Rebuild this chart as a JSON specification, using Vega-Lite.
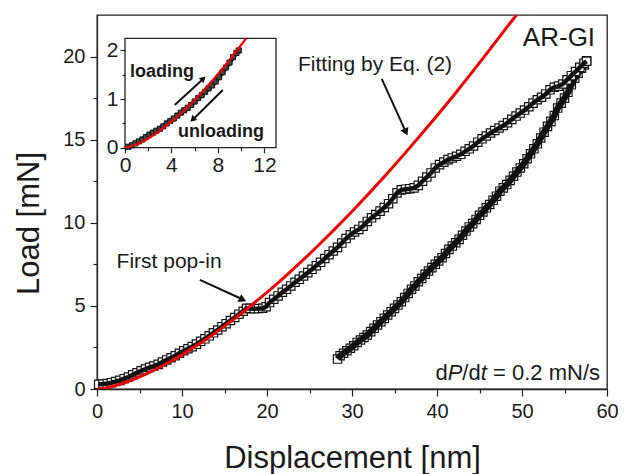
{
  "$schema": "https://vega.github.io/schema/vega-lite/v6.json",
  "width": 510,
  "height": 374,
  "autosize": {"type": "none"},
  "padding": {"left": 97, "top": 15, "right": 23, "bottom": 85},
  "background": "white",
  "config": {
    "font": "Liberation Sans",
    "view": {"stroke": "#222", "strokeWidth": 1.3},
    "axis": {
      "labelFont": "Liberation Sans",
      "titleFont": "Liberation Sans",
      "labelColor": "#1a1a1a",
      "titleColor": "#1a1a1a",
      "domainColor": "#222",
      "tickColor": "#222",
      "domainWidth": 1.3,
      "tickWidth": 1.2,
      "grid": false,
      "labelOverlap": false,
      "labelFlush": false,
      "titleFontWeight": "normal"
    }
  },
  "datasets": {
    "fit": [
      {"x": 0, "y": 0}, {"x": 1, "y": 0.065}, {"x": 2, "y": 0.184}, {"x": 3, "y": 0.338},
      {"x": 4, "y": 0.52}, {"x": 5, "y": 0.727}, {"x": 6, "y": 0.955}, {"x": 8, "y": 1.471},
      {"x": 10, "y": 2.055}, {"x": 12, "y": 2.702}, {"x": 14, "y": 3.405}, {"x": 16, "y": 4.16},
      {"x": 18, "y": 4.964}, {"x": 20, "y": 5.814}, {"x": 22, "y": 6.707}, {"x": 24, "y": 7.643},
      {"x": 26, "y": 8.617}, {"x": 28, "y": 9.63}, {"x": 30, "y": 10.68}, {"x": 32, "y": 11.77},
      {"x": 34, "y": 12.89}, {"x": 36, "y": 14.04}, {"x": 38, "y": 15.23}, {"x": 40, "y": 16.44},
      {"x": 42, "y": 17.69}, {"x": 44, "y": 18.97}, {"x": 46, "y": 20.28}, {"x": 48, "y": 21.62},
      {"x": 49.35, "y": 22.5}
    ],
    "loading": [
      {"x": 0.2, "y": 0.28}, {"x": 0.7, "y": 0.3}, {"x": 1.2, "y": 0.33}, {"x": 1.7, "y": 0.38},
      {"x": 2.2, "y": 0.45}, {"x": 2.7, "y": 0.52}, {"x": 3.2, "y": 0.62}, {"x": 3.7, "y": 0.72},
      {"x": 4.2, "y": 0.85}, {"x": 4.7, "y": 0.98}, {"x": 5.2, "y": 1.1}, {"x": 5.7, "y": 1.2},
      {"x": 6.2, "y": 1.3}, {"x": 6.7, "y": 1.38}, {"x": 7.2, "y": 1.48}, {"x": 7.7, "y": 1.62},
      {"x": 8.2, "y": 1.75}, {"x": 8.7, "y": 1.88}, {"x": 9.2, "y": 2.0}, {"x": 9.7, "y": 2.15},
      {"x": 10.2, "y": 2.3}, {"x": 10.7, "y": 2.42}, {"x": 11.2, "y": 2.55}, {"x": 11.7, "y": 2.7},
      {"x": 12.2, "y": 2.87}, {"x": 12.7, "y": 3.02}, {"x": 13.2, "y": 3.2}, {"x": 13.7, "y": 3.38},
      {"x": 14.2, "y": 3.55}, {"x": 14.7, "y": 3.75}, {"x": 15.2, "y": 3.93}, {"x": 15.7, "y": 4.12},
      {"x": 16.2, "y": 4.3}, {"x": 16.7, "y": 4.5}, {"x": 17.2, "y": 4.68}, {"x": 17.6, "y": 4.85},
      {"x": 18.0, "y": 4.85}, {"x": 18.5, "y": 4.83}, {"x": 19.0, "y": 4.84}, {"x": 19.5, "y": 4.86},
      {"x": 19.9, "y": 4.95}, {"x": 20.3, "y": 5.2}, {"x": 20.8, "y": 5.4}, {"x": 21.3, "y": 5.6},
      {"x": 21.8, "y": 5.82}, {"x": 22.3, "y": 6.0}, {"x": 22.8, "y": 6.2}, {"x": 23.3, "y": 6.42},
      {"x": 23.8, "y": 6.6}, {"x": 24.3, "y": 6.8}, {"x": 24.8, "y": 7.0}, {"x": 25.3, "y": 7.2},
      {"x": 25.8, "y": 7.42}, {"x": 26.3, "y": 7.62}, {"x": 26.8, "y": 7.85}, {"x": 27.3, "y": 8.08},
      {"x": 27.8, "y": 8.3}, {"x": 28.3, "y": 8.52}, {"x": 28.8, "y": 8.78}, {"x": 29.3, "y": 9.05},
      {"x": 29.8, "y": 9.28}, {"x": 30.3, "y": 9.45}, {"x": 30.8, "y": 9.6}, {"x": 31.3, "y": 9.8},
      {"x": 31.8, "y": 10.08}, {"x": 32.3, "y": 10.3}, {"x": 32.8, "y": 10.5}, {"x": 33.3, "y": 10.7},
      {"x": 33.8, "y": 10.92}, {"x": 34.3, "y": 11.15}, {"x": 34.8, "y": 11.45}, {"x": 35.3, "y": 11.8},
      {"x": 35.8, "y": 11.98}, {"x": 36.3, "y": 12.02}, {"x": 36.8, "y": 12.05}, {"x": 37.3, "y": 12.1},
      {"x": 37.8, "y": 12.25}, {"x": 38.3, "y": 12.5}, {"x": 38.8, "y": 12.75}, {"x": 39.3, "y": 13.0},
      {"x": 39.8, "y": 13.3}, {"x": 40.3, "y": 13.5}, {"x": 40.8, "y": 13.65}, {"x": 41.3, "y": 13.8},
      {"x": 41.8, "y": 13.9}, {"x": 42.3, "y": 14.0}, {"x": 42.8, "y": 14.12}, {"x": 43.3, "y": 14.3},
      {"x": 43.8, "y": 14.45}, {"x": 44.3, "y": 14.62}, {"x": 44.8, "y": 14.85}, {"x": 45.3, "y": 15.05},
      {"x": 45.8, "y": 15.22}, {"x": 46.3, "y": 15.4}, {"x": 46.8, "y": 15.55}, {"x": 47.3, "y": 15.7},
      {"x": 47.8, "y": 15.85}, {"x": 48.3, "y": 16.02}, {"x": 48.8, "y": 16.22}, {"x": 49.3, "y": 16.42},
      {"x": 49.8, "y": 16.6}, {"x": 50.3, "y": 16.78}, {"x": 50.8, "y": 16.98}, {"x": 51.3, "y": 17.2},
      {"x": 51.8, "y": 17.4}, {"x": 52.3, "y": 17.55}, {"x": 52.8, "y": 17.75}, {"x": 53.3, "y": 18.0},
      {"x": 53.8, "y": 18.15}, {"x": 54.3, "y": 18.22}, {"x": 54.8, "y": 18.35}, {"x": 55.3, "y": 18.6},
      {"x": 55.8, "y": 18.85}, {"x": 56.3, "y": 19.1}, {"x": 56.8, "y": 19.35}, {"x": 57.3, "y": 19.6},
      {"x": 57.6, "y": 19.72}
    ],
    "unloading": [
      {"x": 57.6, "y": 19.75}, {"x": 57.3, "y": 19.5}, {"x": 57.0, "y": 19.3}, {"x": 56.6, "y": 19.0},
      {"x": 56.2, "y": 18.7}, {"x": 55.8, "y": 18.3}, {"x": 55.4, "y": 17.85}, {"x": 55.0, "y": 17.5},
      {"x": 54.6, "y": 17.2}, {"x": 54.2, "y": 16.9}, {"x": 53.8, "y": 16.45}, {"x": 53.4, "y": 16.1},
      {"x": 53.0, "y": 15.8}, {"x": 52.6, "y": 15.45}, {"x": 52.2, "y": 15.1}, {"x": 51.8, "y": 14.75},
      {"x": 51.4, "y": 14.45}, {"x": 51.0, "y": 14.15}, {"x": 50.6, "y": 13.85}, {"x": 50.2, "y": 13.55},
      {"x": 49.8, "y": 13.3}, {"x": 49.4, "y": 13.05}, {"x": 49.0, "y": 12.8}, {"x": 48.6, "y": 12.55},
      {"x": 48.2, "y": 12.3}, {"x": 47.8, "y": 12.1}, {"x": 47.4, "y": 11.9}, {"x": 47.0, "y": 11.6},
      {"x": 46.6, "y": 11.35}, {"x": 46.2, "y": 11.1}, {"x": 45.8, "y": 10.9}, {"x": 45.4, "y": 10.65},
      {"x": 45.0, "y": 10.45}, {"x": 44.6, "y": 10.2}, {"x": 44.2, "y": 9.95}, {"x": 43.8, "y": 9.75},
      {"x": 43.4, "y": 9.5}, {"x": 43.0, "y": 9.25}, {"x": 42.6, "y": 9.0}, {"x": 42.2, "y": 8.8},
      {"x": 41.8, "y": 8.6}, {"x": 41.4, "y": 8.4}, {"x": 41.0, "y": 8.15}, {"x": 40.6, "y": 7.9},
      {"x": 40.2, "y": 7.7}, {"x": 39.8, "y": 7.5}, {"x": 39.4, "y": 7.3}, {"x": 39.0, "y": 7.1},
      {"x": 38.6, "y": 6.9}, {"x": 38.2, "y": 6.65}, {"x": 37.8, "y": 6.45}, {"x": 37.4, "y": 6.2},
      {"x": 37.0, "y": 6.0}, {"x": 36.6, "y": 5.75}, {"x": 36.2, "y": 5.5}, {"x": 35.8, "y": 5.25},
      {"x": 35.4, "y": 5.05}, {"x": 35.0, "y": 4.85}, {"x": 34.6, "y": 4.65}, {"x": 34.2, "y": 4.45},
      {"x": 33.8, "y": 4.25}, {"x": 33.4, "y": 4.05}, {"x": 33.0, "y": 3.85}, {"x": 32.6, "y": 3.65},
      {"x": 32.2, "y": 3.45}, {"x": 31.8, "y": 3.25}, {"x": 31.4, "y": 3.1}, {"x": 31.0, "y": 2.95},
      {"x": 30.6, "y": 2.8}, {"x": 30.2, "y": 2.6}, {"x": 29.8, "y": 2.45}, {"x": 29.4, "y": 2.3},
      {"x": 29.0, "y": 2.15}, {"x": 28.6, "y": 2.0}, {"x": 28.3, "y": 1.8}
    ],
    "insetFit": [
      {"x": 0, "y": 0}, {"x": 0.5, "y": 0.024}, {"x": 1, "y": 0.067}, {"x": 1.5, "y": 0.123},
      {"x": 2, "y": 0.189}, {"x": 3, "y": 0.347}, {"x": 4, "y": 0.534}, {"x": 5, "y": 0.747},
      {"x": 6, "y": 0.982}, {"x": 7, "y": 1.237}, {"x": 8, "y": 1.511}, {"x": 9, "y": 1.804},
      {"x": 10, "y": 2.112}, {"x": 10.43, "y": 2.25}
    ],
    "insetData": [
      {"x": 0.3, "y": 0.02}, {"x": 0.6, "y": 0.05}, {"x": 0.9, "y": 0.09}, {"x": 1.2, "y": 0.13},
      {"x": 1.5, "y": 0.17}, {"x": 1.8, "y": 0.22}, {"x": 2.1, "y": 0.27}, {"x": 2.4, "y": 0.31},
      {"x": 2.7, "y": 0.35}, {"x": 3.0, "y": 0.39}, {"x": 3.3, "y": 0.44}, {"x": 3.6, "y": 0.5},
      {"x": 3.9, "y": 0.55}, {"x": 4.2, "y": 0.6}, {"x": 4.5, "y": 0.66}, {"x": 4.8, "y": 0.72},
      {"x": 5.1, "y": 0.77}, {"x": 5.4, "y": 0.82}, {"x": 5.7, "y": 0.88}, {"x": 6.0, "y": 0.95},
      {"x": 6.3, "y": 1.02}, {"x": 6.6, "y": 1.08}, {"x": 6.9, "y": 1.15}, {"x": 7.2, "y": 1.22},
      {"x": 7.5, "y": 1.28}, {"x": 7.8, "y": 1.36}, {"x": 8.1, "y": 1.45}, {"x": 8.4, "y": 1.55},
      {"x": 8.7, "y": 1.65}, {"x": 9.0, "y": 1.75}, {"x": 9.3, "y": 1.86}, {"x": 9.6, "y": 1.95},
      {"x": 9.8, "y": 2.0}
    ]
  },
  "layer": [
    {
      "encoding": {
        "x": {
          "field": "x", "type": "quantitative",
          "scale": {"domain": [0, 60], "nice": false, "zero": false},
          "axis": {
            "title": "Displacement [nm]",
            "values": [0, 5, 10, 15, 20, 25, 30, 35, 40, 45, 50, 55, 60],
            "labelExpr": "datum.value % 10 === 0 ? format(datum.value, 'd') : ''",
            "tickSize": {"condition": {"test": "datum.value % 10 === 0", "value": 7}, "value": 4},
            "labelFontSize": 20,
            "labelPadding": 5,
            "titleFontSize": 31,
            "titleBaseline": "alphabetic",
            "titleY": 78
          }
        },
        "y": {
          "field": "y", "type": "quantitative",
          "scale": {"domain": [0, 22.5], "nice": false, "zero": false},
          "axis": {
            "title": "Load [mN]",
            "values": [0, 2.5, 5, 7.5, 10, 12.5, 15, 17.5, 20],
            "labelExpr": "datum.value % 5 === 0 ? format(datum.value, 'd') : ''",
            "tickSize": {"condition": {"test": "datum.value % 5 === 0", "value": 7}, "value": 4},
            "labelFontSize": 20,
            "labelPadding": 5,
            "titleFontSize": 31,
            "titleBaseline": "alphabetic",
            "titleAngle": -90,
            "titleAlign": "center",
            "titleX": -59,
            "titleY": 208
          }
        }
      },
      "layer": [
        {
          "data": {"name": "unloading"},
          "mark": {"type": "point", "shape": "square", "filled": true, "fill": "white", "stroke": "#111", "strokeWidth": 1.2, "size": 70, "opacity": 1}
        },
        {
          "data": {"name": "unloading"},
          "mark": {"type": "line", "color": "#111", "strokeWidth": 6.5}
        },
        {
          "data": {"name": "loading"},
          "mark": {"type": "point", "shape": "square", "filled": true, "fill": "white", "stroke": "#111", "strokeWidth": 1.2, "size": 70, "opacity": 1}
        },
        {
          "data": {"name": "loading"},
          "mark": {"type": "line", "color": "#111", "strokeWidth": 4.5}
        },
        {
          "data": {"name": "fit"},
          "mark": {"type": "line", "color": "#ee0000", "strokeWidth": 3, "clip": true}
        },
        {
          "data": {"values": [{"x": 2.3, "y": 7.26, "label": "First pop-in"}, {"x": 23.65, "y": 19.16, "label": "Fitting by Eq. (2)"}]},
          "mark": {"type": "text", "align": "left", "baseline": "alphabetic", "fontSize": 21, "color": "#1a1a1a"},
          "encoding": {"text": {"field": "label"}}
        },
        {
          "data": {"values": [{"x": 58.6, "y": 20.66, "label": "AR-GI"}]},
          "mark": {"type": "text", "align": "right", "baseline": "alphabetic", "fontSize": 26, "color": "#1a1a1a"},
          "encoding": {"text": {"field": "label"}}
        },
        {
          "data": {"values": [{"x": 59.18, "y": 0.56, "label": "= 0.2 mN/s"}, {"x": 45.14, "y": 0.56, "label": "/d"}, {"x": 41.26, "y": 0.56, "label": "d"}]},
          "mark": {"type": "text", "align": "right", "baseline": "alphabetic", "fontSize": 22, "color": "#1a1a1a"},
          "encoding": {"text": {"field": "label"}}
        },
        {
          "data": {"values": [{"x": 45.86, "y": 0.56, "label": "t"}, {"x": 42.98, "y": 0.56, "label": "P"}]},
          "mark": {"type": "text", "align": "right", "baseline": "alphabetic", "fontSize": 22, "fontStyle": "italic", "color": "#1a1a1a"},
          "encoding": {"text": {"field": "label"}}
        },
        {
          "data": {"values": [{"x": 12.1, "y": 6.56, "x2": 17.1, "y2": 5.4}, {"x": 33.5, "y": 18.66, "x2": 36.3, "y2": 15.5}]},
          "mark": {"type": "rule", "color": "#111", "strokeWidth": 2},
          "encoding": {"x2": {"field": "x2"}, "y2": {"field": "y2"}}
        },
        {
          "data": {"values": [{"x": 17.15, "y": 5.37}]},
          "mark": {"type": "point", "shape": "triangle-up", "filled": true, "color": "#111", "size": 75, "angle": 115, "opacity": 1}
        },
        {
          "data": {"values": [{"x": 36.35, "y": 15.45}]},
          "mark": {"type": "point", "shape": "triangle-up", "filled": true, "color": "#111", "size": 75, "angle": 155, "opacity": 1}
        }
      ]
    },
    {
      "encoding": {
        "x": {
          "field": "x", "type": "quantitative",
          "scale": {"domain": [0, 13], "range": [28, 179], "nice": false, "zero": false},
          "axis": {
            "orient": "bottom",
            "offset": -241.3,
            "title": null,
            "domain": false,
            "zindex": 1,
            "values": [0, 2, 4, 6, 8, 10, 12],
            "labelExpr": "datum.value % 4 === 0 ? format(datum.value, 'd') : ''",
            "tickSize": {"condition": {"test": "datum.value % 4 === 0", "value": 5}, "value": 3},
            "labelFontSize": 21,
            "labelPadding": 2
          }
        },
        "y": {
          "field": "y", "type": "quantitative",
          "scale": {"domain": [0, 2.25], "range": [132.7, 23.3], "nice": false, "zero": false},
          "axis": {
            "orient": "left",
            "offset": -28,
            "title": null,
            "domain": false,
            "zindex": 1,
            "values": [0, 0.5, 1, 1.5, 2],
            "labelExpr": "datum.value % 1 === 0 ? format(datum.value, 'd') : ''",
            "tickSize": {"condition": {"test": "datum.value % 1 === 0", "value": 5}, "value": 3},
            "labelFontSize": 21,
            "labelPadding": 2
          }
        }
      },
      "layer": [
        {
          "data": {"values": [{"x": 0, "y": 0, "x2": 13, "y2": 2.25}]},
          "mark": {"type": "rect", "fill": "white", "stroke": "#222", "strokeWidth": 1.3},
          "encoding": {"x2": {"field": "x2"}, "y2": {"field": "y2"}}
        },
        {
          "data": {"name": "insetData"},
          "mark": {"type": "line", "color": "#111", "strokeWidth": 4.5}
        },
        {
          "data": {"name": "insetData"},
          "mark": {"type": "point", "shape": "square", "filled": true, "fill": "#444", "stroke": "#111", "strokeWidth": 1, "size": 26, "opacity": 1}
        },
        {
          "data": {"name": "insetFit"},
          "mark": {"type": "line", "color": "#ee0000", "strokeWidth": 2.2}
        },
        {
          "data": {"values": [{"x": 0.43, "y": 1.458, "label": "loading"}, {"x": 4.57, "y": 0.226, "label": "unloading"}]},
          "mark": {"type": "text", "align": "left", "baseline": "alphabetic", "fontSize": 18, "fontWeight": "bold", "color": "#1a1a1a"},
          "encoding": {"text": {"field": "label"}}
        },
        {
          "data": {"values": [{"x": 4.28, "y": 0.877, "x2": 6.7, "y2": 1.41}, {"x": 8.42, "y": 1.185, "x2": 5.85, "y2": 0.58}]},
          "mark": {"type": "rule", "color": "#111", "strokeWidth": 2},
          "encoding": {"x2": {"field": "x2"}, "y2": {"field": "y2"}}
        },
        {
          "data": {"values": [{"x": 6.75, "y": 1.42}]},
          "mark": {"type": "point", "shape": "triangle-up", "filled": true, "color": "#111", "size": 50, "angle": 48, "opacity": 1}
        },
        {
          "data": {"values": [{"x": 5.82, "y": 0.58}]},
          "mark": {"type": "point", "shape": "triangle-up", "filled": true, "color": "#111", "size": 50, "angle": 226, "opacity": 1}
        }
      ]
    }
  ],
  "resolve": {
    "scale": {"x": "independent", "y": "independent"},
    "axis": {"x": "independent", "y": "independent"}
  }
}
